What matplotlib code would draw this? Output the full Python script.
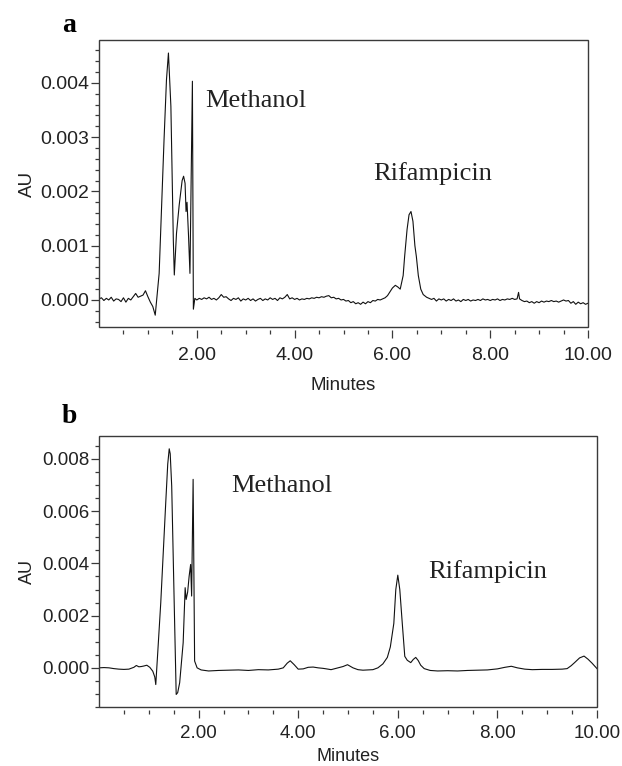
import numpy as np
import matplotlib
matplotlib.use("Agg")
import matplotlib.pyplot as plt
from matplotlib.ticker import FixedLocator, FormatStrFormatter, MultipleLocator
from matplotlib.patches import Rectangle

# ---------------- data (time in minutes, absorbance in mAU) ----------------
time_a = [
    0.00, 0.05, 0.10, 0.15, 0.20, 0.25, 0.30, 0.35, 0.40, 0.45, 0.50, 0.55, 0.60, 0.65, 0.70,
    0.75, 0.80, 0.85, 0.90, 0.95, 1.00,
    1.05, 1.10, 1.15, 1.23, 1.33, 1.38, 1.42, 1.47, 1.52, 1.54, 1.585, 1.64, 1.70, 1.73, 1.76,
    1.78, 1.80, 1.83, 1.86, 1.91, 1.93, 1.96, 2.00,
    2.05, 2.10, 2.15, 2.20, 2.25, 2.30, 2.35, 2.40, 2.45, 2.50, 2.55, 2.60, 2.65, 2.70, 2.75,
    2.80, 2.85, 2.90, 2.95, 3.00, 3.05, 3.10, 3.15, 3.20, 3.25, 3.30, 3.35, 3.40, 3.45, 3.50,
    3.55, 3.60, 3.65, 3.70, 3.75, 3.80, 3.85, 3.90, 3.95, 4.00, 4.05, 4.10, 4.15, 4.20, 4.25,
    4.30, 4.35, 4.40, 4.45, 4.50, 4.55, 4.60, 4.65, 4.70, 4.75, 4.80, 4.85, 4.90, 4.95, 5.00,
    5.05, 5.10, 5.15, 5.20, 5.25, 5.30, 5.35, 5.40, 5.45, 5.50, 5.55, 5.60, 5.65, 5.70, 5.75,
    5.80, 5.85,
    5.90, 5.95, 6.00, 6.06, 6.11, 6.16, 6.22, 6.25, 6.30, 6.34, 6.38, 6.42, 6.46, 6.49, 6.53,
    6.58, 6.63, 6.70,
    6.75, 6.80, 6.85, 6.90, 6.95, 7.00, 7.05, 7.10, 7.15, 7.20, 7.25, 7.30, 7.35, 7.40, 7.45,
    7.50, 7.55, 7.60, 7.65, 7.70, 7.75, 7.80, 7.85, 7.90, 7.95, 8.00, 8.05, 8.10, 8.15, 8.20,
    8.25, 8.30, 8.35, 8.40, 8.45, 8.50, 8.55, 8.58, 8.60, 8.65, 8.70, 8.75, 8.80, 8.85, 8.90,
    8.95, 9.00, 9.05, 9.10, 9.15, 9.20, 9.25, 9.30, 9.35, 9.40, 9.45, 9.50, 9.55, 9.60, 9.65,
    9.70, 9.75, 9.80, 9.85, 9.90, 9.95, 10.00,
]
mau_a = [
    0.02, 0.04, -0.01, 0.03, 0.00, 0.05, -0.02, 0.02, 0.01, -0.03, 0.04, -0.04, 0.03, 0.00, 0.06,
    0.12, 0.05, 0.07, 0.09, 0.17, 0.06,
    -0.04, -0.12, -0.28, 0.49, 2.95, 4.06, 4.55, 3.57, 1.10, 0.46, 1.23, 1.75, 2.20, 2.28, 2.15,
    1.63, 1.80, 1.20, 0.49, 4.03, -0.17, 0.03, 0.00,
    0.03, 0.01, 0.04, 0.02, 0.05, 0.01, 0.03, 0.00, 0.04, 0.10, 0.05, 0.06, 0.02, -0.01, 0.03,
    0.01, 0.04, -0.02, 0.02, 0.00, 0.03, -0.01, 0.02, -0.02, 0.01, 0.03, -0.01, 0.02, 0.00, 0.04,
    0.01, 0.03, -0.01, 0.04, 0.02, 0.05, 0.10, 0.02, 0.04, 0.01, 0.03, 0.00, 0.02, 0.01, 0.03,
    0.02, 0.04, 0.03, 0.05, 0.04, 0.06, 0.05, 0.07, 0.08, 0.04, 0.05, 0.02, 0.03, 0.00, 0.01,
    -0.02, -0.01, -0.05, -0.03, -0.07, -0.05, -0.08, -0.04, -0.07, -0.03, -0.05, -0.01, -0.02, 0.01, 0.00,
    0.02, 0.04,
    0.08, 0.15, 0.22, 0.27, 0.24, 0.20, 0.45, 0.80, 1.30, 1.57, 1.63, 1.45, 1.00, 0.80, 0.45,
    0.20, 0.10, 0.05,
    0.03, 0.01, 0.03, -0.02, 0.02, 0.00, 0.02, -0.02, 0.01, -0.01, 0.02, -0.02, 0.00, -0.03, 0.01,
    -0.01, 0.01, -0.02, 0.00, -0.01, 0.01, -0.01, 0.02, 0.00, 0.01, -0.01, 0.01, 0.00, 0.02, -0.01,
    0.01, 0.00, 0.02, 0.01, 0.03, 0.01, 0.02, 0.14, 0.02, -0.01, -0.03, -0.02, -0.05, -0.03, -0.06,
    -0.03, -0.05, -0.02, -0.04, -0.02, -0.03, -0.01, -0.03, -0.02, -0.04, -0.02, 0.00, -0.02, -0.01, -0.06,
    -0.03, -0.08, -0.04, -0.07, -0.05, -0.08, -0.06,
]

time_b = [
    0.00, 0.10, 0.20, 0.30, 0.40, 0.50, 0.60, 0.70, 0.75, 0.80, 0.85, 0.90, 0.96, 1.02, 1.08,
    1.12, 1.14, 1.18, 1.24, 1.34, 1.38, 1.41, 1.43, 1.46, 1.51, 1.55, 1.58, 1.62, 1.69, 1.73,
    1.75, 1.78, 1.81, 1.84, 1.86, 1.89, 1.92, 1.97, 2.05, 2.20, 2.40, 2.60, 2.80, 3.00, 3.20,
    3.40, 3.60, 3.70, 3.78, 3.84, 3.92, 4.00, 4.10, 4.20, 4.30, 4.40, 4.50, 4.60, 4.66, 4.80,
    4.90, 4.99, 5.10, 5.20, 5.30, 5.40, 5.50, 5.60, 5.70, 5.79, 5.85, 5.92, 5.96, 6.00, 6.04,
    6.09, 6.14, 6.19, 6.26, 6.31, 6.36, 6.41, 6.46, 6.53, 6.65, 6.80, 7.00, 7.20, 7.40, 7.60,
    7.80, 8.00, 8.15, 8.28, 8.40, 8.55, 8.70, 8.90, 9.10, 9.30, 9.40, 9.48, 9.55, 9.65, 9.74,
    9.82, 9.90, 10.00,
]
mau_b = [
    0.00, 0.01, 0.00, -0.03, -0.05, -0.06, -0.05, 0.02, 0.09, 0.04, 0.05, 0.07, 0.10, 0.02, -0.13,
    -0.35, -0.64, 0.60, 2.49, 6.32, 7.80, 8.39, 8.20, 6.96, 2.49, -1.02, -0.95, -0.57, 0.96, 3.07,
    2.62, 2.90, 3.51, 3.96, 2.75, 7.22, 0.26, 0.00, -0.08, -0.12, -0.10, -0.09, -0.08, -0.10, -0.07,
    -0.08, -0.05, 0.00, 0.18, 0.27, 0.12, -0.05, -0.04, 0.02, 0.03, 0.00, -0.02, -0.05, -0.07, 0.00,
    0.05, 0.12, 0.00, -0.07, -0.09, -0.08, -0.07, 0.00, 0.15, 0.40, 0.80, 1.70, 3.00, 3.55, 3.00,
    1.70, 0.44, 0.29, 0.20, 0.32, 0.40, 0.28, 0.10, -0.03, -0.10, -0.12, -0.11, -0.12, -0.10, -0.09,
    -0.08, -0.04, 0.02, 0.06, 0.00, -0.05, -0.07, -0.06, -0.06, -0.05, -0.03, 0.08, 0.20, 0.38, 0.45,
    0.33, 0.18, -0.03,
]

x_major = [2, 4, 6, 8, 10]
x_minor = [0.5, 1.0, 1.5, 2.5, 3.0, 3.5, 4.5, 5.0, 5.5, 6.5, 7.0, 7.5, 8.5, 9.0, 9.5]
y_major_a = [0.000, 0.001, 0.002, 0.003, 0.004]
y_major_b = [0.000, 0.002, 0.004, 0.006, 0.008]
peak_labels = ["Methanol", "Rifampicin"]
panel_letters = ["a", "b"]

# ---------------- figure ----------------
W, H = 622, 766
fig = plt.figure(figsize=(W / 100, H / 100), dpi=100)
SANS = ["Liberation Sans", "DejaVu Sans"]
SERIF = ["Liberation Serif", "DejaVu Serif"]
plt.rcParams["font.family"] = SANS
spine_col = "#3a3a3a"
line_col = "#111111"


def px_axes(left, top, right, bottom):
    return fig.add_axes([left / W, 1 - bottom / H, (right - left) / W, (bottom - top) / H])


ax_a = px_axes(99, 40, 588, 327)
ax_b = px_axes(99, 436, 597, 707)


def style(ax, ylim, ymaj, yminor_step, fs, xpad, lpad):
    ax.set_xlim(0, 10)
    ax.set_ylim(*ylim)
    for s in ax.spines.values():
        s.set_visible(False)
    ax.spines["bottom"].set_position(("outward", 2))
    ax.add_patch(Rectangle((0, 0), 1, 1, transform=ax.transAxes, fill=False,
                           edgecolor=spine_col, lw=1.0, clip_on=False, zorder=5))
    ax.xaxis.set_major_locator(FixedLocator(x_major))
    ax.xaxis.set_minor_locator(FixedLocator(x_minor))
    ax.xaxis.set_major_formatter(FormatStrFormatter("%.2f"))
    ax.yaxis.set_major_locator(FixedLocator(ymaj))
    ax.yaxis.set_minor_locator(MultipleLocator(yminor_step))
    ax.yaxis.set_major_formatter(FormatStrFormatter("%.3f"))
    ax.tick_params(which="major", direction="out", length=6.0, width=0.9, color=spine_col,
                   labelsize=fs, labelcolor="#222222")
    ax.tick_params(which="minor", direction="out", length=3.2, width=0.9, color=spine_col)
    ax.tick_params(axis="x", which="major", pad=xpad)
    ax.tick_params(axis="y", which="major", pad=1)
    ax.set_xlabel("Minutes", fontsize=fs - 0.5, color="#222222", labelpad=lpad)
    ax.set_ylabel("AU", fontsize=fs - 0.5, color="#222222")


style(ax_a, (-0.000498, 0.00479), y_major_a, 0.0002, 14, 6.5, 9)
style(ax_b, (-0.0015, 0.00888), y_major_b, 0.0005, 13.5, 5.0, 4.5)
ax_a.yaxis.set_label_coords(-0.128, 0.5)
ax_b.yaxis.set_label_coords(-0.126, 0.5)

ax_a.plot(time_a, np.array(mau_a) * 1e-3, color=line_col, lw=0.8)
ax_b.plot(time_b, np.array(mau_b) * 1e-3, color=line_col, lw=0.8)

ax_a.text(2.18, 0.00356, peak_labels[0], family=SERIF, fontsize=19, va="baseline", ha="left", color="#222222")
ax_a.text(5.61, 0.00221, peak_labels[1], family=SERIF, fontsize=19, va="baseline", ha="left", color="#222222")
ax_b.text(2.65, 0.00672, peak_labels[0], family=SERIF, fontsize=19, va="baseline", ha="left", color="#222222")
ax_b.text(6.62, 0.00346, peak_labels[1], family=SERIF, fontsize=19, va="baseline", ha="left", color="#222222")

fig.text(62 / W, 1 - 32 / H, panel_letters[0], family=SERIF, fontsize=20, weight="bold", va="baseline", ha="left")
fig.text(62 / W, 1 - 423 / H, panel_letters[1], family=SERIF, fontsize=20, weight="bold", va="baseline", ha="left")

fig.savefig("out.png", dpi=100)
